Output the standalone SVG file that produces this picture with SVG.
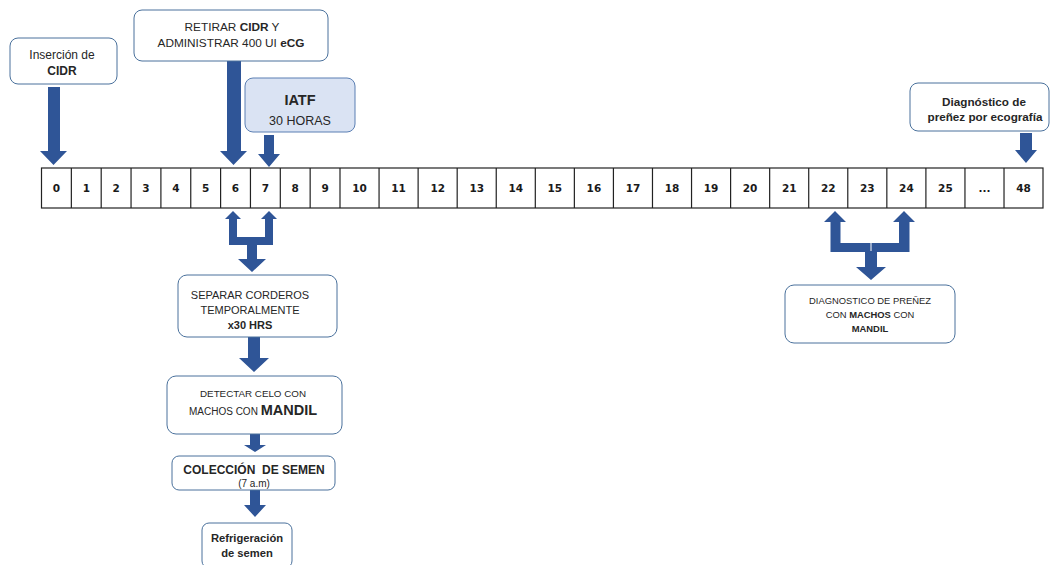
<svg xmlns="http://www.w3.org/2000/svg" width="1051" height="565" viewBox="0 0 1051 565">
<style>
.box{fill:#ffffff;stroke:#4a719c;stroke-width:1}
.hl{fill:#dae3f3;stroke:#5b7fb3;stroke-width:1}
.arr{fill:#2f5597}
.cell{fill:#ffffff;stroke:#222222;stroke-width:1.2}
.sep{stroke:#222222;stroke-width:1.2}
text{font-family:"Liberation Sans",Arial,sans-serif;fill:#262626;text-anchor:middle}
.num{font-family:"DejaVu Sans",Verdana,sans-serif;font-weight:bold;font-size:10.5px;fill:#1a1a1a}
.b{font-weight:bold}
</style>
<rect width="1051" height="565" fill="#ffffff"/>

<g id="timeline">
<rect class="cell" x="41.5" y="168" width="1001.5" height="40"/>
<path class="sep" d="M71.35 168V208M101.2 168V208M131.05 168V208M160.9 168V208M190.75 168V208M220.6 168V208M250.45 168V208M280.3 168V208M310.15 168V208M340 168V208M379.06 168V208M418.12 168V208M457.18 168V208M496.24 168V208M535.3 168V208M574.36 168V208M613.42 168V208M652.48 168V208M691.54 168V208M730.6 168V208M769.66 168V208M808.72 168V208M847.78 168V208M886.84 168V208M925.9 168V208M964.96 168V208M1004.02 168V208"/>
<text class="num" x="56.4" y="192">0</text>
<text class="num" x="86.3" y="192">1</text>
<text class="num" x="116.1" y="192">2</text>
<text class="num" x="146" y="192">3</text>
<text class="num" x="175.8" y="192">4</text>
<text class="num" x="205.7" y="192">5</text>
<text class="num" x="235.5" y="192">6</text>
<text class="num" x="265.4" y="192">7</text>
<text class="num" x="295.2" y="192">8</text>
<text class="num" x="325.1" y="192">9</text>
<text class="num" x="359.5" y="192">10</text>
<text class="num" x="398.6" y="192">11</text>
<text class="num" x="437.7" y="192">12</text>
<text class="num" x="476.7" y="192">13</text>
<text class="num" x="515.8" y="192">14</text>
<text class="num" x="554.8" y="192">15</text>
<text class="num" x="593.9" y="192">16</text>
<text class="num" x="633" y="192">17</text>
<text class="num" x="672" y="192">18</text>
<text class="num" x="711.1" y="192">19</text>
<text class="num" x="750.1" y="192">20</text>
<text class="num" x="789.2" y="192">21</text>
<text class="num" x="828.3" y="192">22</text>
<text class="num" x="867.3" y="192">23</text>
<text class="num" x="906.4" y="192">24</text>
<text class="num" x="945.4" y="192">25</text>
<text class="num" x="984.5" y="192">...</text>
<text class="num" x="1023.5" y="192">48</text>
</g>

<g id="connectors">
<polygon class="arr" points="48,87 60,87 60,151 67,151 53.5,165 40,151 48,151"/>
<polygon class="arr" points="227,61 241,61 241,151 247,151 233.5,165 220,151 227,151"/>
<polygon class="arr" points="264,135 274,135 274,154 280,154 269,167 258,154 264,154"/>
<polygon class="arr" points="233,211 241,219 237,219 237,237 265,237 265,219 261,219 269,211 277,219 273,219 273,245 257,245 257,259 266,259 252,272 238,259 247,259 247,245 229,245 229,219 225,219"/>
<polygon class="arr" points="835,211 846,222 840.5,222 840.5,243 899,243 899,222 893,222 904,211 915,222 909.5,222 909.5,252 877,252 877,267 886,267 871,280 856,267 865,267 865,252 830.5,252 830.5,222 824,222"/>
<line x1="871" y1="243" x2="871" y2="251" stroke="#ffffff" stroke-width="1"/>
<polygon class="arr" points="248,337 260,337 260,358 269,358 254,372 239,358 248,358"/>
<polygon class="arr" points="250,434 260,434 260,445 266,445 255,452 244,445 250,445"/>
<polygon class="arr" points="250,490 260,490 260,505 266,505 255,517 244,505 250,505"/>
<polygon class="arr" points="1020,133 1032,133 1032,150 1037,150 1026,163 1015,150 1020,150"/>
</g>

<g id="n-insercion">
<rect class="box" x="10" y="38" width="107" height="46" rx="8"/>
<text x="62" y="59" font-size="12">Inserción de</text>
<text x="62" y="74.5" font-size="12" class="b">CIDR</text>
</g>

<g id="n-retirar">
<rect class="box" x="134" y="10" width="194" height="51" rx="8"/>
<text x="232" y="31" font-size="11.8">RETIRAR <tspan class="b">CIDR</tspan> Y</text>
<text x="231" y="47" font-size="11.8">ADMINISTRAR 400 UI <tspan class="b">eCG</tspan></text>
</g>

<g id="n-iatf">
<rect class="hl" x="245" y="78" width="110" height="54" rx="8"/>
<text x="300" y="105" font-size="14.5" class="b">IATF</text>
<text x="300" y="124.5" font-size="12.5">30 HORAS</text>
</g>

<g id="n-ecografia">
<rect class="box" x="910" y="83" width="139" height="48" rx="8"/>
<text x="984" y="105.5" font-size="11.7" class="b">Diagnóstico de</text>
<text x="985" y="120.5" font-size="11.7" class="b">preñez por ecografía</text>
</g>

<g id="n-separar">
<rect class="box" x="178" y="275" width="159" height="62" rx="9"/>
<text x="250" y="299" font-size="11">SEPARAR CORDEROS</text>
<text x="250" y="314" font-size="11">TEMPORALMENTE</text>
<text x="250" y="329" font-size="11" class="b">x30 HRS</text>
</g>

<g id="n-detectar">
<rect class="box" x="167" y="376" width="175" height="58" rx="9"/>
<text x="253" y="397" font-size="9.8">DETECTAR CELO CON</text>
<text x="253" y="415" font-size="10">MACHOS CON <tspan class="b" font-size="14.5">MANDIL</tspan></text>
</g>

<g id="n-coleccion">
<rect class="box" x="172" y="456" width="163" height="34" rx="7"/>
<text x="254" y="473.5" font-size="12" class="b" style="white-space:pre">COLECCIÓN  DE SEMEN</text>
<text x="254" y="486.5" font-size="10">(7 a.m)</text>
</g>

<g id="n-refrigeracion">
<rect class="box" x="202" y="523" width="90" height="45" rx="7"/>
<text x="247" y="542" font-size="11.2" class="b">Refrigeración</text>
<text x="247" y="557" font-size="11.2" class="b">de semen</text>
</g>

<g id="n-diagnostico">
<rect class="box" x="785" y="285" width="170" height="58" rx="9"/>
<text x="870" y="303.5" font-size="9.4">DIAGNOSTICO DE PREÑEZ</text>
<text x="870" y="318" font-size="9.4">CON <tspan class="b">MACHOS</tspan> CON</text>
<text x="870" y="332" font-size="9.4" class="b">MANDIL</text>
</g>
</svg>
